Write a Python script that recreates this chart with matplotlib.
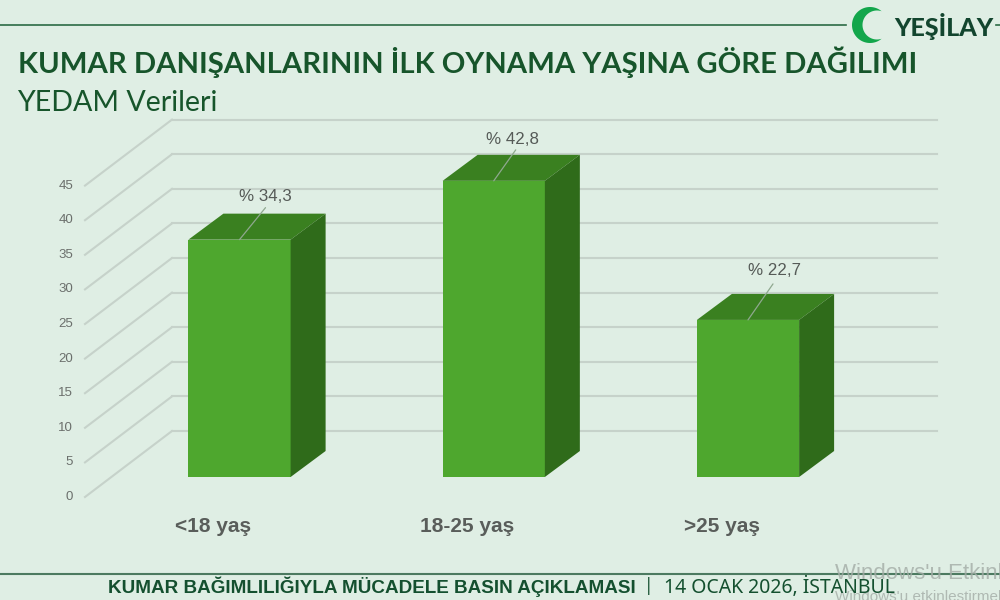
import numpy as np
import matplotlib
matplotlib.use("Agg")
import matplotlib.pyplot as plt
from matplotlib.patches import Polygon

categories = ["<18 yaş", "18-25 yaş", ">25 yaş"]
values = [34.3, 42.8, 22.7]
value_labels = ["% 34,3", "% 42,8", "% 22,7"]
y_ticks = [0, 5, 10, 15, 20, 25, 30, 35, 40, 45]
y_tick_labels = ["0", "5", "10", "15", "20", "25", "30", "35", "40", "45"]

bg = "#dfeee4"
grid_c = "#c6d2ca"
front_c = "#4ea72e"
top_c = "#3a8020"
side_c = "#2f6b1a"
title_c = "#17552b"

plt.rcParams['font.family'] = ['Lato', 'DejaVu Sans']

fig = plt.figure(figsize=(10, 6), dpi=100, facecolor=bg)

# chart axes cover the whole figure, scaled so one category is 254 px and 1 unit 6.92 px
px_x = 254.25
px_y = 6.92
ax = fig.add_axes([0, 0, 1, 1])
ax.set_xlim(-239.5 / px_x, (1000 - 239.5) / px_x)
ax.set_ylim(-123 / px_y, 477 / px_y)
ax.axis("off")

# depth of the bar box, in data units
dx = 35 / px_x
dy = 26 / px_y
bar_w = 0.402
wall_front_x = (85 - 239.5) / px_x
wall_back_x = (172 - 239.5) / px_x
wall_right = (937 - 239.5) / px_x
floor_front = -20 / px_y
floor_back = 46 / px_y

for v in y_ticks:
    ax.plot([wall_front_x, wall_back_x], [v + floor_front, v + floor_back], color=grid_c, lw=1.5, zorder=1)
    ax.plot([wall_back_x, wall_right], [v + floor_back, v + floor_back], color=grid_c, lw=1.5, zorder=1)

for v, lab in zip(y_ticks, y_tick_labels):
    ax.text(wall_front_x - 12 / px_x, v + floor_front, lab, ha="right", va="center",
            fontsize=9.5, color="#6b6f6c", family=["Liberation Sans"])

xs = np.arange(len(categories))
ax.bar(xs, values, width=bar_w, color=front_c, zorder=3)

for x, v in zip(xs, values):
    l = x - bar_w / 2
    r = x + bar_w / 2
    ax.add_patch(Polygon([(l, v), (r, v), (r + dx, v + dy), (l + dx, v + dy)], color=top_c, lw=0, zorder=3))
    ax.add_patch(Polygon([(r, 0), (r, v), (r + dx, v + dy), (r + dx, dy)], color=side_c, lw=0, zorder=3))

label_offsets = [(25.5, 45), (19, 43), (27, 51)]
line_offsets = [(26, 32), (22, 31), (25, 36)]
for x, v, lab, to, lo in zip(xs, values, value_labels, label_offsets, line_offsets):
    ax.annotate("", xy=(x, v), xytext=(lo[0] * 0.72, lo[1] * 0.72), textcoords="offset points",
                arrowprops=dict(arrowstyle="-", color="#8fa88f", lw=0.9, shrinkA=0, shrinkB=0), zorder=4)
    ax.annotate(lab, xy=(x, v), xytext=(to[0] * 0.72, (to[1] - 2) * 0.72), textcoords="offset points",
                ha="center", va="center", fontsize=12.2, color="#555a57", family=["Liberation Sans"], zorder=5)

for x, lab in zip(xs, categories):
    ax.text(x - 26.5 / px_x, -50 / px_y, lab, ha="center", va="center", fontsize=15,
            fontweight="bold", color="#595d5a", family=["Liberation Sans"])

# header and footer sit in pixel coordinates
deco = fig.add_axes([0, 0, 1, 1], facecolor="none")
deco.set_xlim(0, 1000)
deco.set_ylim(600, 0)
deco.axis("off")

deco.plot([0, 846], [25, 25], color="#2c6a45", lw=1.2)
deco.plot([996, 1000], [25, 25], color="#2c6a45", lw=1.2)
deco.plot([0, 1000], [574, 574], color="#4c7a60", lw=1.5)

t = np.radians(np.linspace(50, 310, 80))
outer = np.column_stack([870 + 18 * np.cos(t), 25 + 18 * np.sin(t)])
t2 = np.radians(np.linspace(288.5, 71.5, 80))
inner = np.column_stack([877 + 14.5 * np.cos(t2), 25 + 14.5 * np.sin(t2)])
deco.add_patch(Polygon(np.vstack([outer, inner]), color="#12a64b", lw=0))
deco.text(894, 26, "YEŞİLAY", fontsize=18, fontweight="black", color="#12452e", ha="left", va="center")

deco.text(18, 62, "KUMAR DANIŞANLARININ İLK OYNAMA YAŞINA GÖRE DAĞILIMI", fontsize=21.1,
          fontweight="bold", color=title_c, ha="left", va="center")
deco.text(17, 103, "YEDAM Verileri", fontsize=20.6, color=title_c, ha="left", va="center")

deco.text(835, 573, "Windows'u Etkinleştirin", fontsize=16, color="#a3aca6", alpha=0.8, ha="left", va="center",
          family=["Liberation Sans"], clip_on=True)
deco.text(835, 597, "Windows'u etkinleştirmek için", fontsize=11, color="#a3aca6", alpha=0.8, ha="left", va="center",
          family=["Liberation Sans"], clip_on=True)

deco.text(108, 587, "KUMAR BAĞIMLILIĞIYLA MÜCADELE BASIN AÇIKLAMASI", fontsize=13.6,
          fontweight="bold", color="#14502f", ha="left", va="center", family=["Liberation Sans"])
deco.text(649, 586, "|", fontsize=12.5, color="#14502f", ha="center", va="center", family=["Noto Sans"])
deco.text(895, 587, "14 OCAK 2026, İSTANBUL", fontsize=14, color="#14502f", ha="right", va="center",
          family=["Noto Sans"])

fig.savefig("out.png", dpi=100, facecolor=bg)
